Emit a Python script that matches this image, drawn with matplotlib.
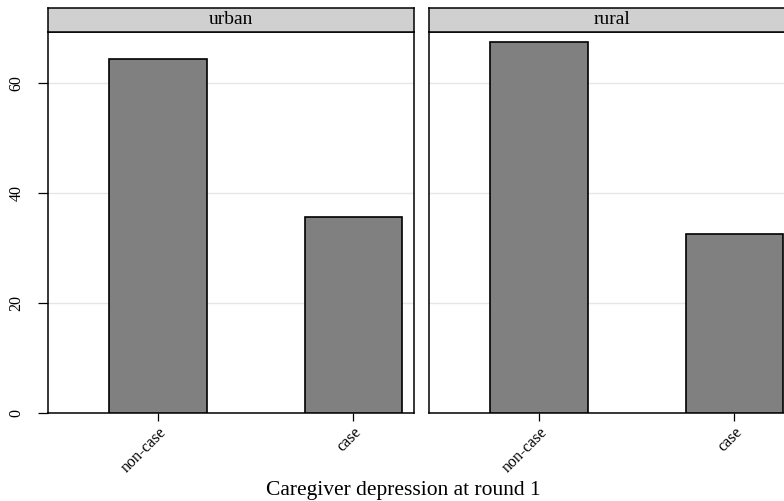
import matplotlib
matplotlib.use("Agg")
import matplotlib.pyplot as plt

# data: percentages by caregiver depression status, faceted by area
panels = ["urban", "rural"]
categories = ["non-case", "case"]
urban_pct = [64.4, 35.6]
rural_pct = [67.5, 32.5]
y_ticks = [0, 20, 40, 60]
x_title = "Caregiver depression at round 1"

plt.rcParams.update({
    "font.family": ["Liberation Serif", "DejaVu Serif"],
    "font.size": 12,
})

W, H = 784, 501
fig = plt.figure(figsize=(W / 100, H / 100), dpi=100)


def px_rect(x0, y0, x1, y1):
    # pixel box (top-left origin) -> figure fraction [l, b, w, h]
    return [x0 / W, 1 - y1 / H, (x1 - x0) / W, (y1 - y0) / H]


panel_x = [(48, 414), (429, 795)]
values = [urban_pct, rural_pct]

for i, (name, vals) in enumerate(zip(panels, values)):
    x0, x1 = panel_x[i]
    ax = fig.add_axes(px_rect(x0, 32, x1, 413))
    pos = list(range(len(categories)))
    ax.bar(pos, vals, width=0.5, color="#808080", edgecolor="black",
           linewidth=1.2, zorder=3)
    ax.set_xlim(-0.564, 1.31)
    ax.set_ylim(0, 69.3)
    ax.set_yticks(y_ticks)
    ax.yaxis.grid(True, color="#e6e6e6", linewidth=1.0, zorder=0)
    ax.set_axisbelow(True)
    ax.set_xticks(pos)
    ax.set_xticklabels(categories, rotation=45, ha="right",
                       rotation_mode="anchor", fontsize=11.5)
    ax.tick_params(axis="x", length=6, width=0.9, pad=2)
    if i == 0:
        ax.set_yticklabels([str(t) for t in y_ticks], rotation=90,
                           va="center", fontsize=11.5)
        ax.tick_params(axis="y", length=7, width=0.9, pad=10)
    else:
        ax.tick_params(axis="y", length=0, labelleft=False)
    for s in ax.spines.values():
        s.set_color("black")
        s.set_linewidth(1.1)

    # facet strip
    sx = fig.add_axes(px_rect(x0, 8, x1, 32))
    sx.set_facecolor("#d0d0d0")
    sx.set_xticks([])
    sx.set_yticks([])
    for s in sx.spines.values():
        s.set_color("black")
        s.set_linewidth(1.1)
    sx.text(0.5, 0.5, name, ha="center", va="center", fontsize=14,
            transform=sx.transAxes)

fig.text(403 / W, 1 - 490 / H, x_title, ha="center", va="center",
         fontsize=15.5)

fig.savefig("out.png", dpi=100)
